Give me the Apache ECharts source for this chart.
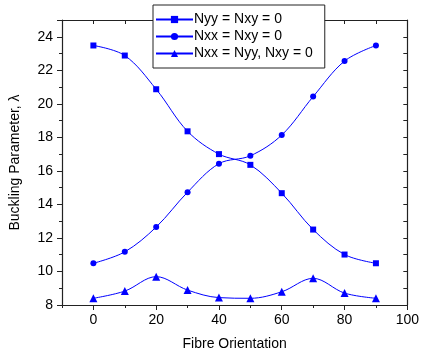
<!DOCTYPE html>
<html><head><meta charset="utf-8">
<script src="https://cdn.jsdelivr.net/npm/echarts@6/dist/echarts.min.js"></script>
<style>html,body{margin:0;padding:0;background:#fff}#c{width:422px;height:356px}</style>
</head><body><div id="c"></div>
<script>
const angles = [0, 10, 20, 30, 40, 50, 60, 70, 80, 90];
const nyyNxy0 = [23.48, 22.88, 20.87, 18.36, 17.0, 16.36, 14.67, 12.5, 11.01, 10.49];
const nxxNxy0 = [10.49, 11.17, 12.65, 14.73, 16.43, 16.9, 18.14, 20.43, 22.55, 23.48];
const nxxNyy = [8.4, 8.83, 9.69, 8.89, 8.44, 8.4, 8.79, 9.59, 8.71, 8.4];
const xMajor = [0, 20, 40, 60, 80, 100];
const xMinor = [-10, 10, 30, 50, 70, 90];
const names = ['Nyy = Nxy = 0', 'Nxx = Nxy = 0', 'Nxx = Nyy, Nxy = 0'];

const blue = '#0000ff';
const axisCol = '#222';
const font = 'Liberation Sans, Arial, sans-serif';
function pairs(vals){ return angles.map((a,i)=>[a, vals[i]]); }
function mk(name, vals, sym, size){
  return {name, type:'line', data:pairs(vals), smooth:0.35, symbol:sym, symbolSize:size,
    lineStyle:{color:blue, width:1}, itemStyle:{color:blue}, xAxisIndex:0, yAxisIndex:0};
}
const chart = echarts.init(document.getElementById('c'), null, {renderer:'canvas'});
chart.setOption({
  animation:false,
  backgroundColor:'#fff',
  grid:{left:61, right:10, top:20, bottom:49},
  legend:{
    left:153, top:5, orient:'vertical', itemGap:2, itemWidth:37, itemHeight:9,
    padding:[7,12,7,2], backgroundColor:'#fff', borderColor:axisCol, borderWidth:1,
    textStyle:{fontFamily:font, fontSize:14, lineHeight:15, color:'#000', padding:[0,0,0,-4]},
    data:names
  },
  xAxis:[
    {type:'value', min:-10, max:100, interval:10, position:'bottom',
      name:'Fibre Orientation', nameLocation:'middle', nameGap:32,
      nameTextStyle:{fontFamily:font, fontSize:14, color:'#000'},
      axisLine:{show:true, onZero:false, lineStyle:{color:axisCol, width:1.2}},
      axisTick:{show:true, inside:false, length:5, customValues:xMajor, lineStyle:{color:axisCol}},
      axisLabel:{customValues:xMajor, fontFamily:font, fontSize:14, color:'#000', margin:8},
      splitLine:{show:false}},
    {type:'value', min:-10, max:100, interval:10, position:'bottom',
      axisLine:{show:false}, axisLabel:{show:false}, splitLine:{show:false},
      axisTick:{show:true, inside:false, length:3, customValues:xMinor, lineStyle:{color:axisCol}}},
    {type:'value', min:-10, max:100, interval:10, position:'top',
      axisLine:{show:true, onZero:false, lineStyle:{color:axisCol, width:1.2}}, axisLabel:{show:false}, splitLine:{show:false},
      axisTick:{show:true, inside:true, length:4, customValues:[0,10,20,30,40,50,60,70,80,90], lineStyle:{color:axisCol}}}
  ],
  yAxis:[
    {type:'value', min:8, max:25, interval:2, position:'left',
      name:'Buckling Parameter, λ', nameLocation:'middle', nameGap:40,
      nameTextStyle:{fontFamily:font, fontSize:14, color:'#000'},
      axisLine:{show:true, onZero:false, lineStyle:{color:axisCol, width:1.2}},
      axisTick:{show:true, inside:false, length:5, lineStyle:{color:axisCol}},
      minorTick:{show:true, splitNumber:2, length:3, lineStyle:{color:axisCol}},
      axisLabel:{showMaxLabel:false, fontFamily:font, fontSize:14, color:'#000', margin:9},
      splitLine:{show:false}},
    {type:'value', min:8, max:25, interval:1, position:'right',
      axisLine:{show:true, onZero:false, lineStyle:{color:axisCol, width:1.2}},
      axisTick:{show:true, inside:true, length:4, lineStyle:{color:axisCol}},
      axisLabel:{show:false}, splitLine:{show:false}}
  ],
  series:[
    mk(names[0], nyyNxy0, 'rect', 6),
    mk(names[1], nxxNxy0, 'circle', 6),
    mk(names[2], nxxNyy, 'triangle', 8)
  ]
});
</script></body></html>
